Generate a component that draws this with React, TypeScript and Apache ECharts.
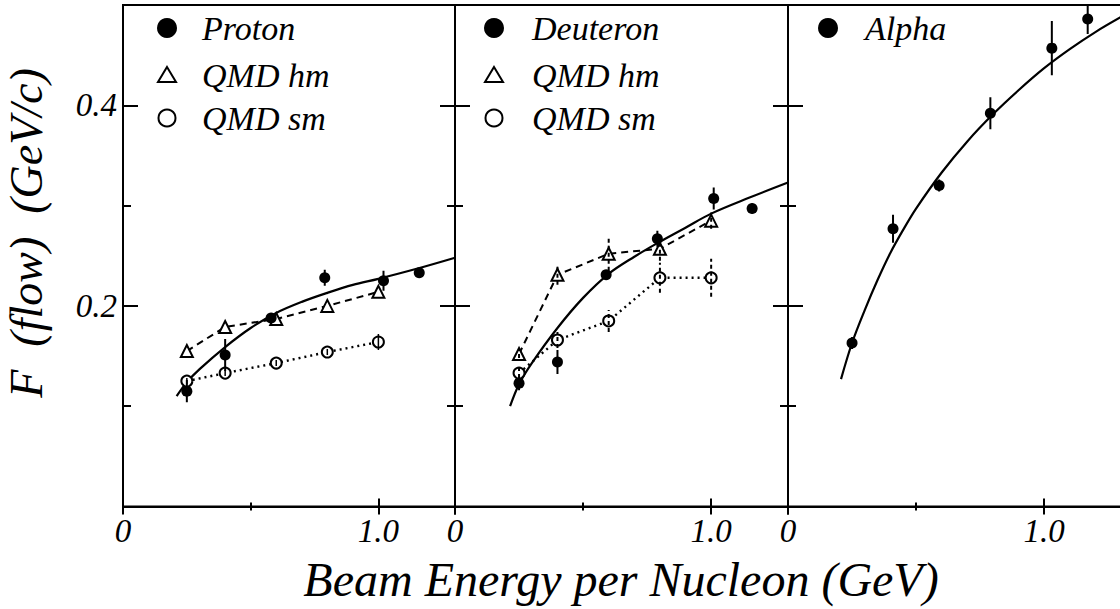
import React, { useEffect, useRef } from "react";
import * as echarts from "echarts";

// ---------- data ----------
const qmdE = [0.25, 0.4, 0.6, 0.8, 1.0];

const protonE = [0.25, 0.4, 0.58, 0.79, 1.02, 1.16];
const protonF = [0.115, 0.151, 0.188, 0.228, 0.225, 0.233];
const protonErr = [0.011, 0.016, 0.004, 0.008, 0.01, 0.005];
const protonHmF = [0.155, 0.179, 0.187, 0.2, 0.214];
const protonHmErr = [0, 0, 0, 0, 0];
const protonSmF = [0.125, 0.133, 0.143, 0.154, 0.164];
const protonSmErr = [0.003, 0.003, 0.003, 0.003, 0.008];
const protonFitE = [0.21, 0.25, 0.3, 0.4, 0.5, 0.6, 0.7, 0.8, 0.9, 1.0, 1.15, 1.3];
const protonFitF = [0.11, 0.124, 0.137, 0.159, 0.178, 0.193, 0.204, 0.213, 0.221, 0.227, 0.237, 0.248];

const deutE = [0.25, 0.4, 0.59, 0.79, 1.01, 1.16];
const deutF = [0.123, 0.144, 0.231, 0.267, 0.307, 0.297];
const deutErr = [0.007, 0.012, 0.004, 0.008, 0.011, 0.005];
const deutHmF = [0.152, 0.231, 0.252, 0.257, 0.285];
const deutHmErr = [0.004, 0.01, 0.017, 0.012, 0.008];
const deutSmF = [0.133, 0.166, 0.185, 0.228, 0.228];
const deutSmErr = [0.005, 0.008, 0.011, 0.015, 0.019];
const deutFitE = [0.215, 0.25, 0.3, 0.4, 0.5, 0.6, 0.7, 0.8, 0.9, 1.0, 1.15, 1.3];
const deutFitF = [0.1, 0.122, 0.143, 0.178, 0.208, 0.232, 0.249, 0.264, 0.278, 0.292, 0.308, 0.323];

const alphaE = [0.25, 0.41, 0.59, 0.79, 1.03, 1.17];
const alphaF = [0.163, 0.277, 0.32, 0.392, 0.457, 0.486];
const alphaErr = [0.006, 0.014, 0.006, 0.016, 0.027, 0.015];
const alphaFitE = [0.207, 0.25, 0.3, 0.35, 0.4, 0.45, 0.5, 0.6, 0.7, 0.8, 0.9, 1.0, 1.1, 1.2, 1.3];
const alphaFitF = [0.127, 0.163, 0.196, 0.226, 0.253, 0.276, 0.297, 0.333, 0.364, 0.391, 0.415, 0.437, 0.456, 0.473, 0.488];

const legendPanel1 = ["Proton", "QMD hm", "QMD sm"];
const legendPanel2 = ["Deuteron", "QMD hm", "QMD sm"];
const legendPanel3 = ["Alpha"];

const xTickLabels: Record<string, string> = { "0": "0", "1": "1.0" };
const yTickLabels: Record<string, string> = { "0.2": "0.2", "0.4": "0.4" };

const xTitle = "Beam Energy per Nucleon (GeV)";
const yTitle = "F\u00a0\u00a0(flow)\u00a0\u00a0(GeV/c)";

// ---------- styling / layout ----------
const FONT = "Times New Roman";
const PANELS = [
  { left: 123, width: 332 },
  { left: 455, width: 333 },
  { left: 788, width: 333 },
];
const TOP = 5;
const HEIGHT = 501.5;

function zip(xs: number[], ys: number[]) {
  return xs.map((x, i) => [x, ys[i]]);
}
function zip3(xs: number[], ys: number[], es: number[]) {
  return xs.map((x, i) => [x, ys[i], es[i]]);
}

function errorBars(
  panel: number,
  data: number[][],
  dash: number[] | null,
  width: number,
  z: number
) {
  return {
    type: "custom",
    xAxisIndex: panel * 4,
    yAxisIndex: panel * 4,
    z,
    clip: true,
    silent: true,
    data,
    encode: { x: 0, y: 1 },
    renderItem: (params: any, api: any) => {
      const x = api.value(0);
      const y = api.value(1);
      const e = api.value(2);
      if (!e) return null;
      const p1 = api.coord([x, y - e]);
      const p2 = api.coord([x, y + e]);
      return {
        type: "line",
        shape: { x1: p1[0], y1: p1[1], x2: p2[0], y2: p2[1] },
        style: { stroke: "#000", lineWidth: width, lineDash: dash || undefined },
      };
    },
  };
}

function fitLine(panel: number, xs: number[], ys: number[]) {
  return {
    type: "line",
    xAxisIndex: panel * 4,
    yAxisIndex: panel * 4,
    data: zip(xs, ys),
    smooth: 0.35,
    showSymbol: false,
    symbol: "none",
    clip: true,
    z: 3,
    lineStyle: { color: "#000", width: 2.2 },
  };
}

function qmdLine(panel: number, ys: number[], kind: "hm" | "sm") {
  return {
    type: "line",
    xAxisIndex: panel * 4,
    yAxisIndex: panel * 4,
    data: zip(qmdE, ys),
    showSymbol: true,
    symbol: kind === "hm" ? "triangle" : "circle",
    symbolSize: kind === "hm" ? 12 : 11,
    z: 4,
    itemStyle: { color: "#fff", borderColor: "#000", borderWidth: 2, opacity: 1 },
    lineStyle: {
      color: "#000",
      width: kind === "hm" ? 2 : 2.4,
      type: kind === "hm" ? [7, 5] : [2, 4],
    },
  };
}

function points(panel: number, xs: number[], ys: number[]) {
  return {
    type: "scatter",
    xAxisIndex: panel * 4,
    yAxisIndex: panel * 4,
    data: zip(xs, ys),
    symbol: "circle",
    symbolSize: 11,
    z: 5,
    itemStyle: { color: "#000", opacity: 1 },
  };
}

function buildAxes() {
  const xAxis: any[] = [];
  const yAxis: any[] = [];
  const tickStyle = { color: "#000", width: 2 };
  PANELS.forEach((_, i) => {
    const baseX = {
      gridIndex: i,
      type: "value",
      min: 0,
      max: 1.3,
      position: "bottom",
      splitLine: { show: false },
    };
    xAxis.push({
      ...baseX,
      interval: 1,
      axisLine: { show: true, onZero: false, lineStyle: { color: "#000", width: 2 } },
      axisTick: { show: true, inside: true, length: 8, lineStyle: tickStyle },
      axisLabel: {
        show: true,
        margin: 8,
        color: "#000",
        fontSize: 33,
        fontStyle: "italic",
        fontFamily: FONT,
        showMaxLabel: false,
        formatter: (v: number) => xTickLabels[String(Math.round(v * 10) / 10)] || "",
      },
    });
    xAxis.push({
      ...baseX,
      interval: 1,
      axisLine: { show: false, onZero: false },
      axisTick: { show: true, inside: false, length: 8, lineStyle: tickStyle },
      axisLabel: { show: false },
    });
    xAxis.push({
      ...baseX,
      interval: 0.5,
      axisLine: { show: false, onZero: false },
      axisTick: { show: true, inside: true, length: 4, lineStyle: tickStyle },
      axisLabel: { show: false },
    });
    xAxis.push({
      ...baseX,
      interval: 0.5,
      axisLine: { show: false, onZero: false },
      axisTick: { show: true, inside: false, length: 4, lineStyle: tickStyle },
      axisLabel: { show: false },
    });

    const baseY = {
      gridIndex: i,
      type: "value",
      min: 0,
      max: 0.5,
      splitLine: { show: false },
    };
    const showRight = i < 2;
    yAxis.push({
      ...baseY,
      position: "left",
      interval: 0.2,
      axisLine: { show: true, onZero: false, lineStyle: { color: "#000", width: 2 } },
      axisTick: { show: true, inside: true, length: 15, lineStyle: tickStyle },
      axisLabel: {
        show: i === 0,
        margin: 6,
        color: "#000",
        fontSize: 33,
        fontStyle: "italic",
        fontFamily: FONT,
        formatter: (v: number) => yTickLabels[String(Math.round(v * 10) / 10)] || "",
      },
    });
    yAxis.push({
      ...baseY,
      position: "left",
      interval: 0.1,
      axisLine: { show: false, onZero: false },
      axisTick: { show: true, inside: true, length: 8, lineStyle: tickStyle },
      axisLabel: { show: false },
    });
    yAxis.push({
      ...baseY,
      position: "right",
      interval: 0.2,
      axisLine: { show: showRight, onZero: false, lineStyle: { color: "#000", width: 2 } },
      axisTick: { show: showRight, inside: true, length: 15, lineStyle: tickStyle },
      axisLabel: { show: false },
    });
    yAxis.push({
      ...baseY,
      position: "right",
      interval: 0.1,
      axisLine: { show: false, onZero: false },
      axisTick: { show: showRight, inside: true, length: 8, lineStyle: tickStyle },
      axisLabel: { show: false },
    });
  });
  return { xAxis, yAxis };
}

function legendGraphics() {
  const rowsY = [28, 75, 118];
  const markerX = [167, 494, 828];
  const textX = [202, 532, 865];
  const labels = [legendPanel1, legendPanel2, legendPanel3];
  const els: any[] = [];
  labels.forEach((list, p) => {
    list.forEach((label, r) => {
      const cx = markerX[p];
      const cy = rowsY[r];
      if (r === 0) {
        els.push({ type: "circle", shape: { cx, cy, r: 10 }, style: { fill: "#000" } });
      } else if (r === 1) {
        els.push({
          type: "polygon",
          shape: { points: [[cx, cy - 8], [cx + 9, cy + 7], [cx - 9, cy + 7]] },
          style: { fill: "#fff", stroke: "#000", lineWidth: 2 },
        });
      } else {
        els.push({
          type: "circle",
          shape: { cx, cy, r: 8.5 },
          style: { fill: "#fff", stroke: "#000", lineWidth: 2 },
        });
      }
      els.push({
        type: "text",
        x: textX[p],
        y: cy,
        style: {
          text: label,
          fill: "#000",
          fontSize: 34,
          fontStyle: "italic",
          fontFamily: FONT,
          align: "left",
          verticalAlign: "middle",
        },
      });
    });
  });
  els.push({
    type: "text",
    x: 621,
    y: 579,
    style: {
      text: xTitle,
      fill: "#000",
      fontSize: 48,
      fontStyle: "italic",
      fontFamily: FONT,
      align: "center",
      verticalAlign: "middle",
    },
  });
  els.push({
    type: "text",
    x: 26,
    y: 233,
    rotation: Math.PI / 2,
    style: {
      text: yTitle,
      fill: "#000",
      fontSize: 46,
      fontStyle: "italic",
      fontFamily: FONT,
      align: "center",
      verticalAlign: "middle",
    },
  });
  return els;
}

export default function App() {
  const ref = useRef<HTMLDivElement>(null);
  useEffect(() => {
    document.body.style.margin = "0";
    if (!ref.current) return;
    const chart = echarts.init(ref.current, undefined, { renderer: "svg" });
    const { xAxis, yAxis } = buildAxes();
    const series: any[] = [
      // panel 1: proton
      fitLine(0, protonFitE, protonFitF),
      qmdLine(0, protonHmF, "hm"),
      qmdLine(0, protonSmF, "sm"),
      points(0, protonE, protonF),
      errorBars(0, zip3(protonE, protonF, protonErr), null, 2, 6),
      errorBars(0, zip3(qmdE, protonHmF, protonHmErr), null, 1.5, 6),
      errorBars(0, zip3(qmdE, protonSmF, protonSmErr), null, 1.5, 6),
      // panel 2: deuteron
      fitLine(1, deutFitE, deutFitF),
      qmdLine(1, deutHmF, "hm"),
      qmdLine(1, deutSmF, "sm"),
      points(1, deutE, deutF),
      errorBars(1, zip3(deutE, deutF, deutErr), null, 2, 6),
      errorBars(1, zip3(qmdE, deutHmF, deutHmErr), [4, 3], 2, 6),
      errorBars(1, zip3(qmdE, deutSmF, deutSmErr), [4, 3], 2, 6),
      // panel 3: alpha
      fitLine(2, alphaFitE, alphaFitF),
      points(2, alphaE, alphaF),
      errorBars(2, zip3(alphaE, alphaF, alphaErr), null, 2, 6),
    ];
    chart.setOption({
      animation: false,
      backgroundColor: "#fff",
      grid: PANELS.map((p) => ({
        left: p.left,
        top: TOP,
        width: p.width,
        height: HEIGHT,
        show: true,
        borderColor: "#000",
        borderWidth: 2,
        backgroundColor: "transparent",
        containLabel: false,
        outerBoundsMode: "none",
      })),
      xAxis,
      yAxis,
      series,
      graphic: legendGraphics(),
    });
    return () => chart.dispose();
  }, []);
  return <div ref={ref} style={{ width: 1120, height: 609 }} />;
}
